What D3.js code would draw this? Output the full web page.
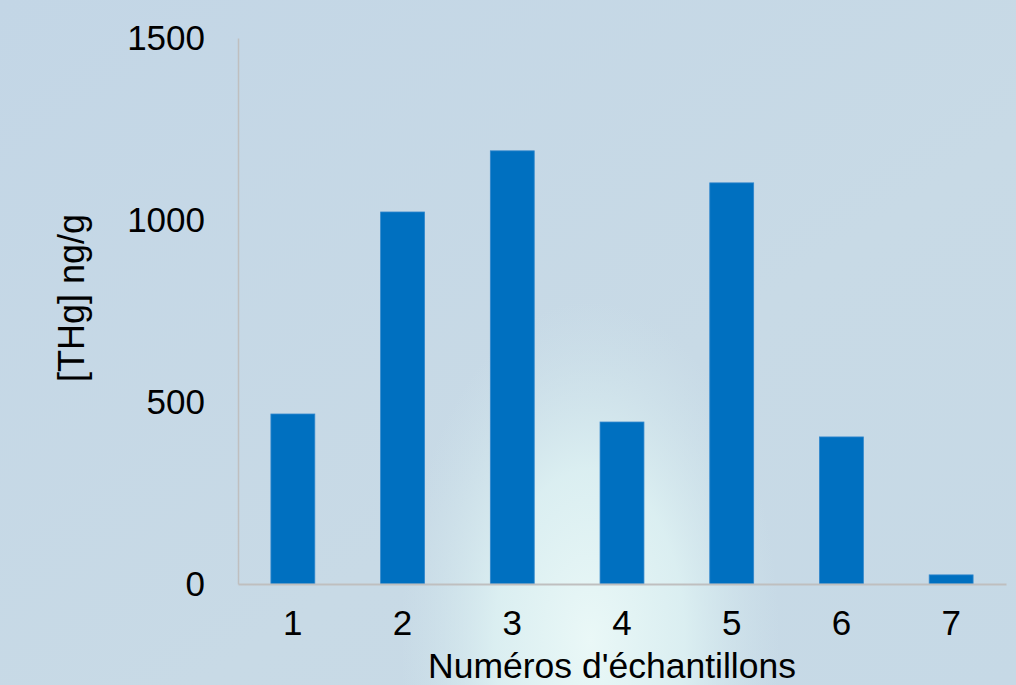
<!DOCTYPE html>
<html>
<head>
<meta charset="utf-8">
<script src="https://cdn.jsdelivr.net/npm/d3@7"></script>
<style>
  body { margin: 0; overflow: hidden; }
  svg { display: block; font-family: "Liberation Sans", Arial, sans-serif; }
</style>
</head>
<body>
<svg id="chart" width="1016" height="685"></svg>
<script>
// chart data
var samples = ['1', '2', '3', '4', '5', '6', '7'];
var thgValues = [467, 1022, 1190, 445, 1102, 404, 25];
var yTicks = [0, 500, 1000, 1500];

var width = 1016, height = 685,
    margin = {left: 238, right: 10, top: 38, bottom: 101};

var svg = d3.select('#chart');
var defs = svg.append('defs');

// background: pale blue with a light cyan glow near the bottom middle
var lin = defs.append('linearGradient').attr('id', 'bg')
  .attr('x1', 0).attr('y1', 0).attr('x2', 1).attr('y2', 1);
lin.append('stop').attr('offset', '0%').attr('stop-color', '#c3d6e6');
lin.append('stop').attr('offset', '60%').attr('stop-color', '#c8dae6');
lin.append('stop').attr('offset', '100%').attr('stop-color', '#c6d9e6');

var glow = defs.append('radialGradient').attr('id', 'glow')
  .attr('cx', 0.5).attr('cy', 0.5).attr('r', 0.5);
glow.append('stop').attr('offset', '0%').attr('stop-color', '#eaf8f7').attr('stop-opacity', 1);
glow.append('stop').attr('offset', '50%').attr('stop-color', '#def2f3').attr('stop-opacity', 0.85);
glow.append('stop').attr('offset', '100%').attr('stop-color', '#d2e7ed').attr('stop-opacity', 0);

svg.append('rect').attr('width', width).attr('height', height).style('fill', 'url(#bg)');
svg.append('ellipse')
  .attr('cx', 590).attr('cy', 640).attr('rx', 190).attr('ry', 340)
  .style('fill', 'url(#glow)');

var x = d3.scaleBand()
  .domain(samples)
  .range([margin.left, width - margin.right])
  .paddingInner(0.6)
  .paddingOuter(0.3);

var y = d3.scaleLinear()
  .domain([0, 1500])
  .range([height - margin.bottom, margin.top]);

// bars
svg.selectAll('rect.bar')
  .data(thgValues)
  .enter().append('rect')
    .attr('class', 'bar')
    .attr('x', function(d, i) { return x(samples[i]); })
    .attr('y', function(d) { return y(d); })
    .attr('width', x.bandwidth())
    .attr('height', function(d) { return y(0) - y(d); })
    .style('fill', '#0070c0')
    .style('stroke', '#2f86cc')
    .style('stroke-width', 0.8);

// y axis (line only, labels without ticks)
var yAxis = svg.append('g')
  .attr('transform', 'translate(' + margin.left + ',0)')
  .call(d3.axisLeft(y).tickValues(yTicks).tickFormat(d3.format('d')).tickSize(0).tickPadding(33));
yAxis.select('.domain').style('stroke', '#bfbfbf').style('stroke-width', 1.5);
yAxis.selectAll('text')
  .style('font-size', '35px').style('fill', '#000')
  .style('font-family', '"Liberation Sans", Arial, sans-serif');

// x axis
var xAxis = svg.append('g')
  .attr('transform', 'translate(0,' + y(0) + ')')
  .call(d3.axisBottom(x).tickSize(0).tickPadding(26));
xAxis.select('.domain').style('stroke', '#bfbfbf').style('stroke-width', 2);
xAxis.selectAll('text')
  .style('font-size', '35px').style('fill', '#000')
  .style('font-family', '"Liberation Sans", Arial, sans-serif');

// axis titles
svg.append('text')
  .attr('x', 612).attr('y', 678)
  .attr('text-anchor', 'middle')
  .style('font-size', '35.5px')
  .text("Numéros d'échantillons");

svg.append('text')
  .attr('transform', 'translate(84,298) rotate(-90)')
  .attr('text-anchor', 'middle')
  .style('font-size', '36px')
  .text('[THg] ng/g');
</script>
</body>
</html>
